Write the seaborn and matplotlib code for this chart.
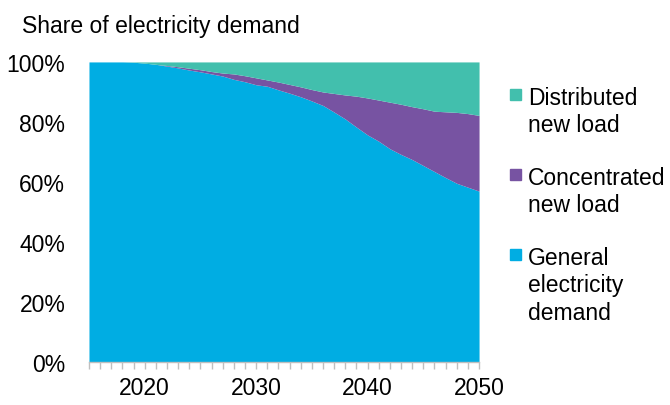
import numpy as np
import pandas as pd
import seaborn as sns
from matplotlib import pyplot as plt
from matplotlib.patches import Rectangle
from matplotlib.ticker import MultipleLocator, PercentFormatter

years = list(range(2015, 2051))

# share of demand, %
general = [100, 100, 100, 100, 99.9, 99.6, 99.2, 98.6, 98.0, 97.3,
           96.7, 96.0, 95.3, 94.2, 93.4, 92.4, 91.9, 90.7, 89.6, 88.4,
           87.0, 85.5, 83.3, 81.0, 78.3, 75.7, 73.6, 71.1, 69.2, 67.5,
           65.5, 63.5, 61.5, 59.6, 58.3, 57.0]
general_plus_concentrated = [100, 100, 100, 100, 99.9, 99.6, 99.2, 98.8, 98.4, 97.9,
                             97.4, 96.8, 96.3, 96.0, 95.4, 94.7, 94.0, 93.3, 92.5, 91.7,
                             90.8, 90.0, 89.5, 89.0, 88.6, 88.0, 87.3, 86.6, 85.9, 85.1,
                             84.4, 83.6, 83.4, 83.2, 82.8, 82.2]

df = pd.DataFrame({"year": years, "General electricity demand": general})
df["Concentrated new load"] = np.array(general_plus_concentrated) - df["General electricity demand"]
df["Distributed new load"] = 100 - np.array(general_plus_concentrated)

series = ["General electricity demand", "Concentrated new load", "Distributed new load"]
labels = ["General\nelectricity\ndemand", "Concentrated\nnew load", "Distributed\nnew load"]
colors = ["#00ADE3", "#7753A2", "#42BFAD"]

sns.set_style("white")
plt.rcParams["font.family"] = ["Liberation Sans", "DejaVu Sans"]
plt.rcParams["text.color"] = "black"
plt.rcParams["xtick.color"] = "black"
plt.rcParams["ytick.color"] = "black"

fs = 16.5

fig = plt.figure(figsize=(6.7, 4.06), dpi=100)
ax = fig.add_axes([0.1328, 0.105, 0.5822, 0.74])

ax.stackplot(df["year"], [df[s] for s in series], colors=colors, linewidth=0)

ax.set_xlim(2015, 2050)
ax.set_ylim(0, 100)
ax.set_xticks([2020, 2030, 2040, 2050])
ax.xaxis.set_minor_locator(MultipleLocator(1))
ax.yaxis.set_major_locator(MultipleLocator(20))
ax.yaxis.set_major_formatter(PercentFormatter(decimals=0))

for side in ["top", "right", "left"]:
    ax.spines[side].set_visible(False)
ax.spines["bottom"].set_color("#BFBFBF")
ax.spines["bottom"].set_linewidth(1)

ax.tick_params(axis="x", which="both", direction="out", length=5, width=1,
               color="#BFBFBF", bottom=True)
ax.tick_params(axis="x", which="major", labelsize=fs, labelcolor="black", pad=5)
ax.tick_params(axis="y", length=0, labelsize=fs, labelcolor="black", pad=17, left=False)
ax.set_xlabel("")
ax.set_ylabel("")

fig.text(22 / 670, 1 - 33 / 406, "Share of electricity demand", fontsize=fs,
         va="baseline", ha="left")

# legend, top entry first
patch_tops = [90, 170, 250]
for top, lab, col in zip(patch_tops, labels[::-1], colors[::-1]):
    fig.patches.append(Rectangle((510 / 670, 1 - (top + 11) / 406), 11 / 670, 11 / 406,
                                 transform=fig.transFigure, color=col))
    fig.text(528 / 670, 1 - (top - 3) / 406, lab, fontsize=fs, va="top",
             ha="left", linespacing=1.24)

fig.savefig("out.png", dpi=100)
